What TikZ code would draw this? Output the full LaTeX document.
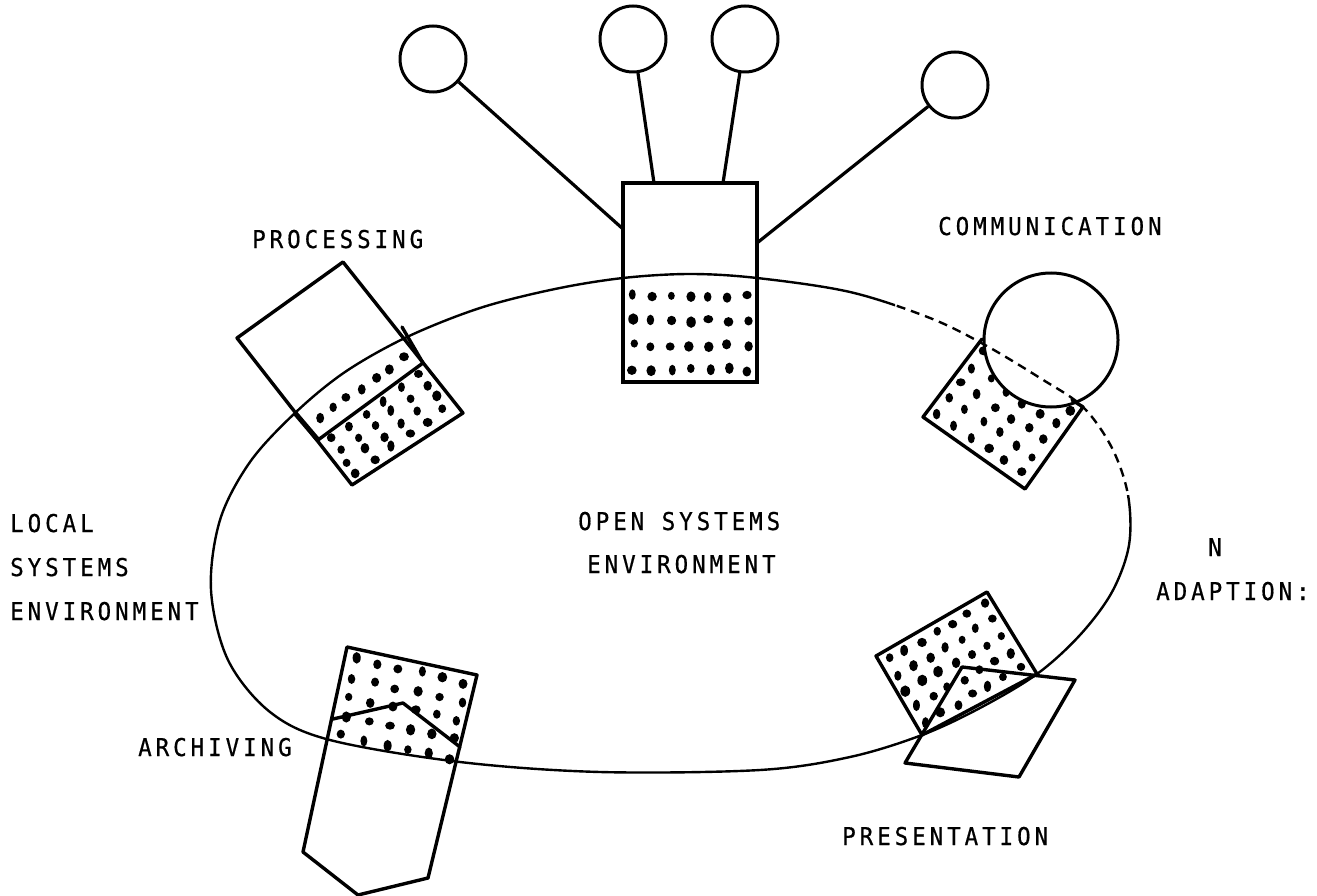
\documentclass[tikz,border=0pt]{standalone}
\usepackage{fontspec}
\newfontfamily\labfont[FakeStretch=0.92,LetterSpace=16,FakeBold=0.6]{DejaVu Sans Mono}
\usetikzlibrary{calc}

% scatter of ink dots over the parallelogram origin (#1,#2), sides (#3,#4) and (#5,#6), #7 x #8 dots
\newcommand\dotfield[8]{%
  \foreach \i in {1,...,#7}{%
    \foreach \j in {1,...,#8}{%
      \pgfmathsetmacro\dx{#1+(\i-0.5)/#7*(#3)+(\j-0.5)/#8*(#5)+1.8*rand}%
      \pgfmathsetmacro\dy{#2+(\i-0.5)/#7*(#4)+(\j-0.5)/#8*(#6)+1.8*rand}%
      \pgfmathsetmacro\drx{3.4+1.6*rnd}%
      \pgfmathsetmacro\dry{4.0+1.8*rnd}%
      \fill (\dx,\dy) ellipse [x radius=\drx pt, y radius=\dry pt];%
    }}}

\begin{document}
\begin{tikzpicture}[x=1pt,y=-1pt,
  edge/.style={line width=3.4pt,line join=round,line cap=round},
  loopline/.style={line width=2.4pt},
  ball/.style={circle,draw,line width=3pt,minimum size=66pt,inner sep=0pt},
  stick/.style={line width=3.2pt},
  lab/.style={font={\labfont\fontsize{24.5}{28}\selectfont},inner sep=0pt,anchor=base west}]
\useasboundingbox (0,0) rectangle (1317,896);
\pgfmathsetseed{11}

% ---- dotted (filled) parts of the units ----
\dotfield{310}{420}{98}{-70}{4}{6}{7}{1}
\dotfield{318}{440}{105}{-77}{34}{45}{6}{4}
\dotfield{623}{284}{134}{0}{0}{98}{7}{4}
\dotfield{982}{339}{-59}{78}{101}{68}{5}{6}
\dotfield{876}{656}{111}{-64}{46}{79}{7}{5}
\dotfield{347}{647}{130}{28}{-17}{95}{6}{5}

% ---- communication unit: disc over its dotted block ----
\node[ball,fill=white,minimum size=134pt] (comm) at (1051,340) {};

% ---- the environment loop ----
\path[save path=\looppath] plot[smooth cycle,tension=0.55] coordinates {
  (623,278) (690,274) (757,278) (850,292) (930,318) (985,345) (1040,378)
  (1083,407) (1112,448) (1128,495) (1129,545) (1112,592) (1080,635)
  (1037,674) (980,708) (922,735) (850,757) (760,770) (600,772) (460,762)
  (330,740) (270,712) (228,660) (211,590) (220,520) (250,462) (295,413)
  (345,372) (407,337) (480,308) (555,289)};
\begin{scope}[even odd rule]
  \clip (0,0) rectangle (1317,896)
    (895,240) -- (1200,240) -- (1200,495) -- (1050,495) -- (895,340) -- cycle;
  \draw[loopline,use path=\looppath];
\end{scope}
\begin{scope}
  \clip (895,240) -- (1200,240) -- (1200,495) -- (1050,495) -- (895,340) -- cycle;
  \draw[loopline,dash pattern=on 9pt off 6pt,use path=\looppath];
\end{scope}

% ---- central host with its four terminals ----
\node[draw,line width=3.4pt,minimum width=134pt,minimum height=199pt,inner sep=0pt] (host) at (690,282.5) {};
\node[ball] (t1) at (433,59) {};
\node[ball] (t2) at (633,39) {};
\node[ball] (t3) at (745,39) {};
\node[ball] (t4) at (955,85) {};
\coordinate (h1) at (623,229);
\coordinate (h2) at (654,183);
\coordinate (h3) at (723,183);
\coordinate (h4) at (757,243);
\draw[stick] (t1) -- (h1);
\draw[stick] (t2) -- (h2);
\draw[stick] (t3) -- (h3);
\draw[stick] (t4) -- (h4);

% ---- processing unit ----
\coordinate (p1) at (343,262);
\coordinate (p2) at (237,338);
\coordinate (p3) at (352,485);
\coordinate (p4) at (463,413);
\coordinate (pb1) at (318,440);
\coordinate (pb2) at (423,363);
\coordinate (pc1) at (402,327);
\coordinate (pa1) at (295,413);
\draw[edge] (p1) -- (p2) -- (p3) -- (p4) -- cycle;
\draw[edge] (pb1) -- (pb2);
\draw[edge] (pc1) -- (pb2);
\draw[line width=5pt] (pa1) -- (pb1);

% ---- communication block ----
\coordinate (c1) at (982,339);
\coordinate (c2) at (923,417);
\coordinate (c3) at (1025,489);
\coordinate (c4) at (1083,407);
\coordinate (c5) at (1072,400);
\draw[edge] (c1) -- (c2) -- (c3) -- (c4) -- (c5);

% ---- presentation unit ----
\coordinate (r1) at (987,592);
\coordinate (r2) at (876,656);
\coordinate (r3) at (922,735);
\coordinate (r4) at (1037,674);
\coordinate (s1) at (962,667);
\coordinate (s2) at (1075,680);
\coordinate (s3) at (1019,777);
\coordinate (s4) at (905,763);
\draw[edge] (r1) -- (r2) -- (r3) -- (r4) -- cycle;
\draw[edge] (s1) -- (s2) -- (s3) -- (s4) -- cycle;

% ---- archiving unit ----
\coordinate (a1) at (347,647);
\coordinate (a2) at (477,675);
\coordinate (a3) at (428,878);
\coordinate (a4) at (358,895);
\coordinate (a5) at (303,852);
\coordinate (b1) at (333,719);
\coordinate (b2) at (403,703);
\coordinate (b3) at (460,747);
\draw[edge] (a1) -- (a2) -- (a3) -- (a4) -- (a5) -- cycle;
\draw[edge] (b1) -- (b2) -- (b3);

% ---- labels ----
\node[lab] (lproc) at (252,248) {PROCESSING};
\node[lab] (lcomm) at (938,235) {COMMUNICATION};
\node[lab] (lloc1) at (10,532) {LOCAL};
\node[lab] (lloc2) at (10,576) {SYSTEMS};
\node[lab] (lloc3) at (10,620) {ENVIRONMENT};
\node[lab] (lopen1) at (578,530) {OPEN SYSTEMS};
\node[lab] (lopen2) at (587,573) {ENVIRONMENT};
\node[lab] (ladn) at (1208,556) {N};
\node[lab] (ladap) at (1156,600) {ADAPTION:};
\node[lab] (larch) at (138,756) {ARCHIVING};
\node[lab] (lpres) at (842,845) {PRESENTATION};
\end{tikzpicture}
\end{document}
